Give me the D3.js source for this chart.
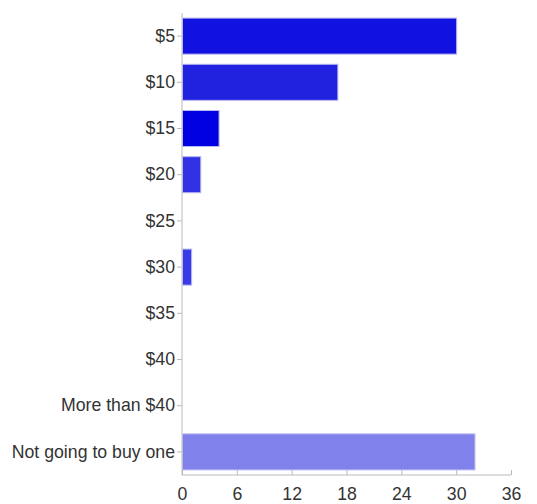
<!DOCTYPE html>
<html>
<head>
<meta charset="utf-8">
<script src="https://cdn.jsdelivr.net/npm/d3@7"></script>
<style>
  body { margin: 0; background: #fff; }
  .axis text { font-family: "Liberation Sans", Arial, sans-serif; font-size: 17.7px; fill: #333; }
  .axis path, .axis line { stroke: #bbb; }
</style>
</head>
<body>
<script>
  // survey answers and counts
  var categories = ["$5", "$10", "$15", "$20", "$25", "$30", "$35", "$40", "More than $40", "Not going to buy one"];
  var counts = [30, 17, 4, 2, 0, 1, 0, 0, 0, 32];
  var barColors = ["#1111e0", "#2121e0", "#0000e0", "#3131e3", "#3a3ae6", "#3a3ae6", "#3a3ae6", "#3a3ae6", "#3a3ae6", "#8181ec"];
  var xTicks = [0, 6, 12, 18, 24, 30, 36];

  var W = 537, H = 504;
  var m = {top: 13, right: 26, bottom: 29, left: 182};

  var svg = d3.select("body").append("svg")
    .attr("width", W)
    .attr("height", H);

  var x = d3.scaleLinear().domain([0, 36]).range([m.left, W - m.right]);
  var y = d3.scaleBand().domain(categories).range([m.top, H - m.bottom]).paddingInner(0.22).paddingOuter(0.11);

  var rows = categories.map(function(c, i){ return {cat: c, val: counts[i], col: barColors[i]}; });

  svg.selectAll("rect.bar").data(rows.filter(function(d){ return d.val > 0; })).enter()
    .append("rect")
    .attr("class", "bar")
    .attr("x", x(0) + 0.5)
    .attr("y", function(d){ return y(d.cat); })
    .attr("width", function(d){ return x(d.val) - x(0); })
    .attr("height", y.bandwidth())
    .attr("fill", function(d){ return d.col; })
    .attr("stroke", "#b8b8f4")
    .attr("stroke-width", 1);

  // y axis
  var ya = svg.append("g")
    .attr("class", "axis")
    .attr("transform", "translate(" + x(0) + ",0)")
    .call(d3.axisLeft(y).tickSize(5).tickSizeOuter(0).tickPadding(2));
  ya.select("path").attr("d", "M0," + m.top + "V" + (H - m.bottom));

  // x axis
  var xa = svg.append("g")
    .attr("class", "axis")
    .attr("transform", "translate(0," + (H - m.bottom) + ")")
    .call(d3.axisBottom(x).tickValues(xTicks).tickSize(5).tickSizeOuter(0).tickPadding(7));
  xa.select("path").attr("d", "M" + x(0) + ",0H" + x(36));
  xa.selectAll(".tick line").attr("y1", -5).attr("y2", 0);
</script>
</body>
</html>
